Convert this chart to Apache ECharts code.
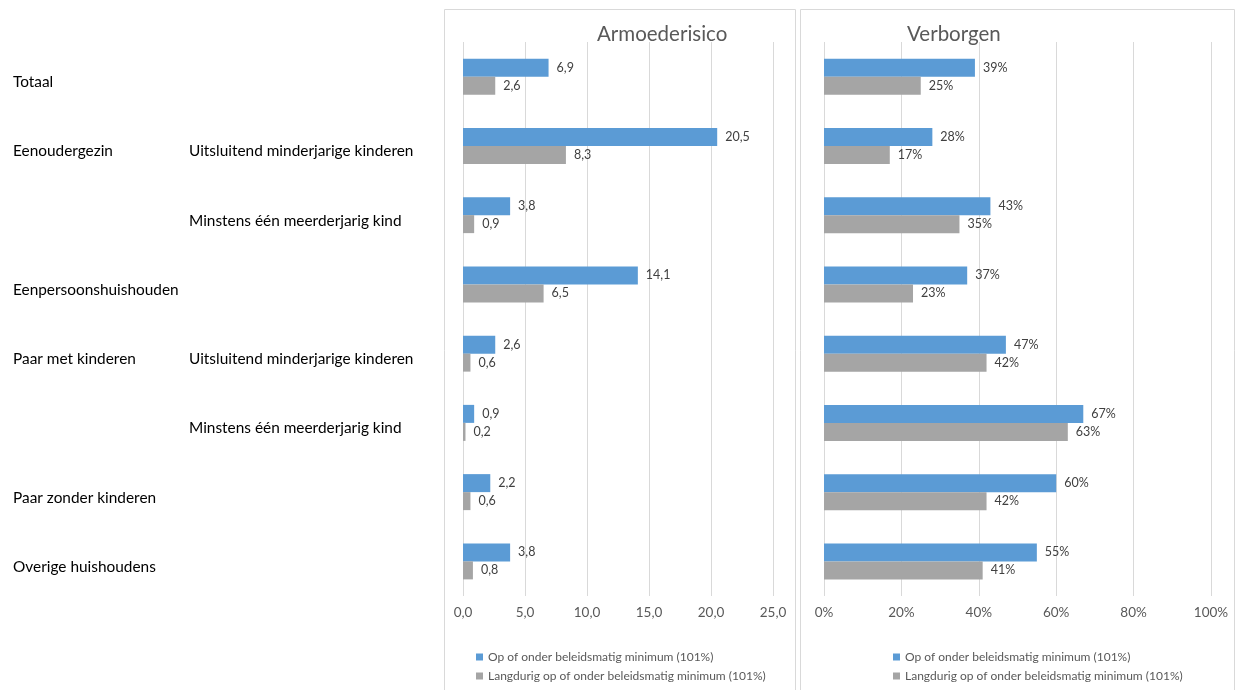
<!DOCTYPE html>
<html><head><meta charset="utf-8">
<script src="https://cdn.jsdelivr.net/npm/echarts@6/dist/echarts.min.js"></script>
<style>html,body{margin:0;padding:0;background:#fff}#c{width:1235px;height:690px}</style>
</head><body><div id="c"></div>
<script>
const groups = ['Totaal','Eenoudergezin','','Eenpersoonshuishouden','Paar met kinderen','','Paar zonder kinderen','Overige huishoudens'];
const subgroups = ['','Uitsluitend minderjarige kinderen','Minstens één meerderjarig kind','','Uitsluitend minderjarige kinderen','Minstens één meerderjarig kind','',''];
const seriesNames = ['Op of onder beleidsmatig minimum (101%)','Langdurig op of onder beleidsmatig minimum (101%)'];
const riskBlue = [6.9, 20.5, 3.8, 14.1, 2.6, 0.9, 2.2, 3.8];
const riskGray = [2.6, 8.3, 0.9, 6.5, 0.6, 0.2, 0.6, 0.8];
const hiddenBlue = [39, 28, 43, 37, 47, 67, 60, 55];
const hiddenGray = [25, 17, 35, 23, 42, 63, 42, 41];
const riskTicks = [0, 5, 10, 15, 20, 25];
const hiddenTicks = [0, 20, 40, 60, 80, 100];

const cats = groups.map((g, i) => String(i));
const FONT = 'Lato';
const BLUE = '#5B9BD5', GRAY = '#A5A5A5';
const chart = echarts.init(document.getElementById('c'));

const labelCommon = {show: true, position: 'right', distance: 8, color: '#404040', fontSize: 12.5, fontFamily: FONT};
function bar(name, data, color, xi, fmt) {
  return {
    type: 'bar', name, data, xAxisIndex: xi, yAxisIndex: xi,
    barWidth: 18, barGap: '0%',
    itemStyle: {color},
    label: Object.assign({formatter: p => fmt(p.value)}, labelCommon),
    emphasis: {disabled: true}
  };
}
const fmtRisk = v => v.toFixed(1).replace('.', ',');
const fmtPct = v => v + '%';

function legendAt(left, top, name) {
  return {orient: 'vertical', left, top, padding: 0, itemWidth: 7, itemHeight: 7, itemGap: 8, icon: 'rect',
    textStyle: {fontSize: 12, color: '#595959', fontFamily: FONT}, data: [name], selectedMode: false};
}

const option = {
  animation: false,
  textStyle: {fontFamily: FONT},
  title: [
    {text: 'Armoederisico', left: 592, top: 19, textStyle: {fontFamily: FONT, fontSize: 20.5, fontWeight: 'normal', color: '#595959'}},
    {text: 'Verborgen', left: 902, top: 19, textStyle: {fontFamily: FONT, fontSize: 20.5, fontWeight: 'normal', color: '#595959'}}
  ],
  grid: [
    {left: 463, top: 42, width: 310, height: 554},
    {left: 824, top: 42, width: 387, height: 554}
  ],
  xAxis: [
    {type: 'value', gridIndex: 0, min: riskTicks[0], max: riskTicks[riskTicks.length-1], interval: 5,
     axisLine: {show: false}, axisTick: {show: false},
     splitLine: {lineStyle: {color: '#D9D9D9'}},
     axisLabel: {formatter: v => fmtRisk(v), color: '#595959', fontSize: 13.5, margin: 10, fontFamily: FONT}},
    {type: 'value', gridIndex: 1, min: hiddenTicks[0], max: hiddenTicks[hiddenTicks.length-1], interval: 20,
     axisLine: {show: false}, axisTick: {show: false},
     splitLine: {lineStyle: {color: '#D9D9D9'}},
     axisLabel: {formatter: v => v + '%', color: '#595959', fontSize: 13.5, margin: 10, fontFamily: FONT}}
  ],
  yAxis: [
    {type: 'category', gridIndex: 0, data: cats, inverse: true,
     axisLine: {show: false}, axisTick: {show: false},
     axisLabel: {align: 'left', margin: 450, fontFamily: FONT, padding: [11, 0, 0, 0],
       formatter: (v, i) => '{a|' + (groups[i] || ' ') + '}{b|' + (subgroups[i] || ' ') + '}',
       rich: {a: {width: 176, fontSize: 15.4, color: '#000', fontFamily: FONT}, b: {fontSize: 15.4, color: '#000', fontFamily: FONT}}}},
    {type: 'category', gridIndex: 1, data: cats, inverse: true,
     axisLine: {show: false}, axisTick: {show: false}, axisLabel: {show: false}}
  ],
  legend: [
    legendAt(476, 651, seriesNames[0]),
    legendAt(476, 670, seriesNames[1]),
    legendAt(893, 651, seriesNames[0]),
    legendAt(893, 670, seriesNames[1])
  ],
  graphic: [
    {type: 'rect', shape: {x: 444.5, y: 9.5, width: 351, height: 700}, style: {fill: 'none', stroke: '#D9D9D9', lineWidth: 1}, silent: true},
    {type: 'rect', shape: {x: 800.5, y: 9.5, width: 434, height: 700}, style: {fill: 'none', stroke: '#D9D9D9', lineWidth: 1}, silent: true}
  ],
  series: [
    bar(seriesNames[0], riskBlue, BLUE, 0, fmtRisk),
    bar(seriesNames[1], riskGray, GRAY, 0, fmtRisk),
    bar(seriesNames[0], hiddenBlue, BLUE, 1, fmtPct),
    bar(seriesNames[1], hiddenGray, GRAY, 1, fmtPct)
  ]
};
chart.setOption(option);
</script></body></html>
